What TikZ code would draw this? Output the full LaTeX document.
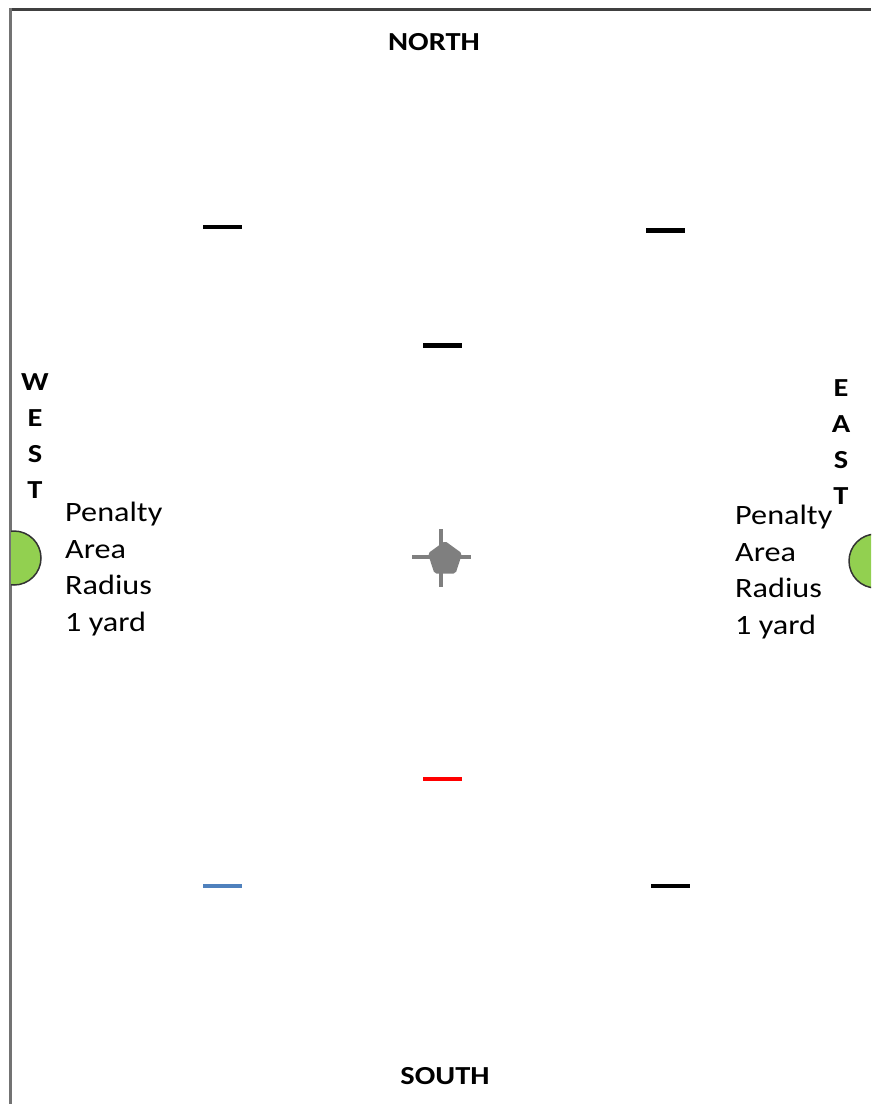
\documentclass[tikz,border=0pt]{standalone}
\usepackage{fontspec}
\setmainfont{Carlito}
\usetikzlibrary{shapes.geometric}
\definecolor{fieldgreen}{HTML}{92D050}
\definecolor{markblue}{HTML}{4F81BD}
\definecolor{markgray}{HTML}{7F7F7F}
\tikzset{
  dir/.style={font=\bfseries\fontsize{26}{36}\selectfont, inner sep=0pt, align=center, xscale=1.17},
  note/.style={font=\fontsize{28}{36.5}\selectfont, inner sep=0pt, align=left, anchor=north west, xscale=1.15},
  cone/.style={line width=4.5pt},
  spot/.style={draw=black!80, line width=1.5pt, fill=fieldgreen}
}
\begin{document}
\begin{tikzpicture}[x=1pt,y=-1pt]
\useasboundingbox (0,0) rectangle (871,1104);
% frame
\draw[black!75, line width=3pt] (10,9.5) -- (871,9.5);
\draw[black!55, line width=3pt] (10,8) -- (10,1104);
% direction labels
\node[dir] (north) at (434,42) {NORTH};
\node[dir] (south) at (445,1076) {SOUTH};
\node[dir, anchor=north] (west) at (35,373) {W\\E\\S\\T};
\node[dir, anchor=north] (east) at (841,379) {E\\A\\S\\T};
% penalty spots
\begin{scope}
\clip (11,0) rectangle (871,1104);
\draw[spot] (14,558) circle (27);
\draw[spot] (876,561) circle (27);
\end{scope}
% notes
\node[note] (wnote) at (65,502) {Penalty\\Area\\Radius\\1 yard};
\node[note] (enote) at (735,505) {Penalty\\Area\\Radius\\1 yard};
% cones
\draw[cone, black] (203,227) -- (242,227);
\draw[cone, black] (646,230.5) -- (685,230.5);
\draw[cone, black] (423,345.5) -- (462,345.5);
\draw[cone, red] (423,779) -- (462,779);
\draw[cone, markblue] (203,886) -- (242,886);
\draw[cone, black] (651,886) -- (690,886);
% centre mark
\node[regular polygon, regular polygon sides=5, fill=markgray, minimum size=36pt, inner sep=0pt, rounded corners=2pt] (centre) at (445,559) {};
\draw[markgray, line width=4pt] (441,529) -- (441,587);
\draw[markgray, line width=4pt] (412,557) -- (471,557);
\end{tikzpicture}
\end{document}
